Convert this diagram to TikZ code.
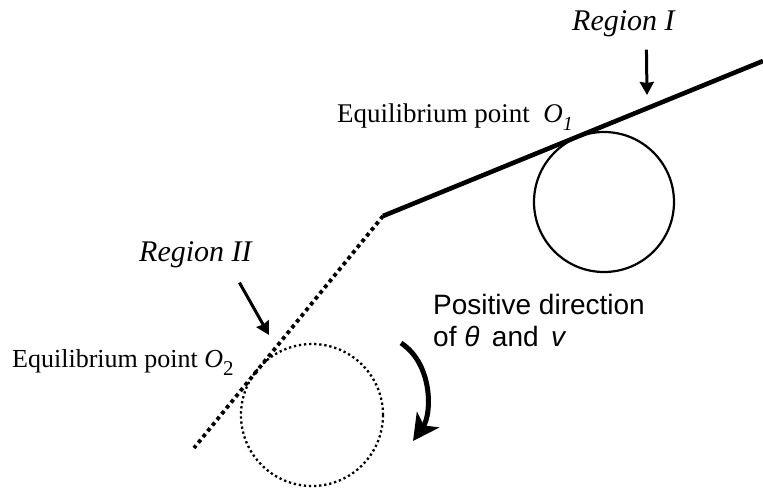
\documentclass[tikz,border=0pt]{standalone}
\usepackage{fontspec}
\usepackage{tikz}
\usetikzlibrary{arrows.meta,positioning,calc}
\setmainfont{Liberation Serif}
\newfontfamily\arialfont{Liberation Sans}

\tikzset{
  lbl/.style={inner sep=0pt, anchor=base west},
  regarrow/.style={line width=3pt, -{Stealth[length=13pt,width=14pt,inset=1pt]}},
  thickdots/.style={line width=3.8pt, dash pattern=on 3.8pt off 3.6pt},
  thindots/.style={line width=2.3pt, dash pattern=on 2.3pt off 2.8pt}
}

\begin{document}
\begin{tikzpicture}[x=1pt,y=-1pt]
  \useasboundingbox (0,0) rectangle (763,491);
  % track: solid part (region I) and dotted part (region II)
  \coordinate (kink) at (383,216);
  \coordinate (topend) at (763,61);
  \coordinate (lowend) at (194,448);
  \draw[line width=4.6pt] (kink) -- (topend);
  \draw[thickdots] (kink) -- (lowend);
  % wheels
  \draw[line width=2.2pt] (604,202) circle[radius=70pt];
  \draw[thindots] (312,415) circle[radius=71pt];
  % labels
  \node[lbl, font=\fontsize{30}{30}\selectfont\itshape] (regI) at (572,30) {Region I};
  \node[lbl, font=\fontsize{30}{30}\selectfont\itshape] (regII) at (139,261) {Region II};
  \node[lbl, font=\fontsize{27}{27}\selectfont] (eqI) at (337,122)
    {Equilibrium point\ \ \textit{O}\raisebox{-8pt}{\fontsize{20}{20}\selectfont\textit{1}}};
  \node[lbl, font=\fontsize{26}{26}\selectfont] (eqII) at (12,367)
    {Equilibrium point \textit{O}\raisebox{-8pt}{\fontsize{21}{21}\selectfont 2}};
  \node[inner sep=0pt, anchor=north west, align=left, font=\arialfont\fontsize{28}{32}\selectfont] (posdir) at (433,294)
    {Positive direction\\of {\itshape θ}\, and\, {\itshape v}};
  % arrows
  \coordinate (tipI) at (647,95);
  \coordinate (tipII) at (269,335);
  \draw[regarrow] ([xshift=23pt,yshift=-13pt]regI.south) -- (tipI);
  \draw[regarrow] ([xshift=44pt,yshift=-15pt]regII.south) -- (tipII);
  \coordinate (rotA) at (401,343);
  \coordinate (rotB) at (413,441);
  \draw[line width=5pt, -{Stealth[length=26pt,width=27pt,inset=7pt]}]
    (rotA) .. controls (433,364) and (432,414) .. (rotB);
\end{tikzpicture}
\end{document}
